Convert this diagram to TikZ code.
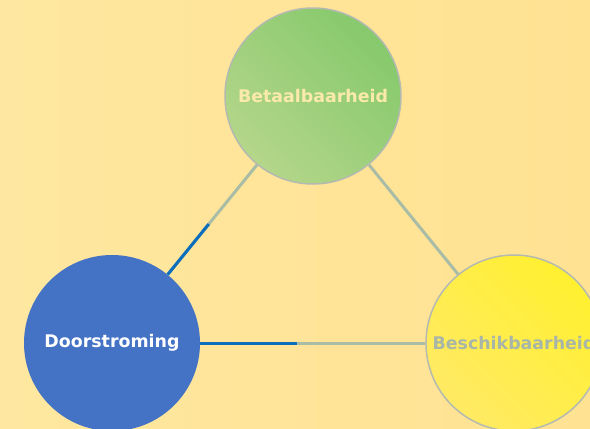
\documentclass[tikz,border=0pt]{standalone}
\usepackage{fontspec}
\setmainfont{DejaVu Sans}
\usetikzlibrary{positioning, calc}
\definecolor{bgleft}{HTML}{FEE7A0}
\definecolor{bgright}{HTML}{FFE292}
\definecolor{greenlight}{HTML}{B4D68A}
\definecolor{greenmid}{HTML}{A6D07E}
\definecolor{greendark}{HTML}{86C96C}
\definecolor{doorblue}{HTML}{4472C4}
\definecolor{yellowlight}{HTML}{FFEA64}
\definecolor{yellowdark}{HTML}{FFF030}
\definecolor{rimgrey}{HTML}{B4BAB0}
\definecolor{linkblue}{HTML}{0A6EBD}
\definecolor{linkgrey}{HTML}{A9BCA6}
\definecolor{betaaltext}{HTML}{FCEAAA}
\definecolor{beschiktext}{HTML}{A7B6A6}
\tikzset{
    bubble/.style={circle, minimum size=176pt, inner sep=0pt, font=\bfseries\fontsize{17.4}{19}\selectfont}, % the three circles
    linkgrey/.style={draw=linkgrey, line width=3pt}, % grey half of a connector
    linkblue/.style={draw=linkblue, line width=3pt}, % blue half of a connector
}
\begin{document}
\begin{tikzpicture}[x=1pt, y=-1pt]
    \useasboundingbox (0,0) rectangle (590,429);
    \clip (0,0) rectangle (590,429);
    \shade[left color=bgleft, right color=bgright] (0,0) rectangle (590,429);

    \node[bubble, draw=rimgrey, line width=1.5pt, text=betaaltext,
          left color=greenlight, middle color=greenmid, right color=greendark, shading angle=135] (betaal) at (313,96) {Betaalbaarheid};
    \node[bubble, fill=doorblue, text=white] (door) at (112,343) {Doorstroming};
    \node[bubble, draw=rimgrey, line width=1.5pt, text=beschiktext,
          left color=yellowlight, right color=yellowdark, shading angle=135] (beschik) at (514,343) {Beschikbaarheid};

    % connectors: grey all the way, blue from Doorstroming to the middle
    \draw[linkgrey] (door) -- (betaal) coordinate[pos=0.46] (m1);
    \draw[linkblue] (door) -- (m1);
    \draw[linkgrey] (door) -- (beschik) coordinate[pos=0.43] (m2);
    \draw[linkblue] (door) -- (m2);
    \draw[linkgrey] (betaal) -- (beschik);
\end{tikzpicture}
\end{document}
